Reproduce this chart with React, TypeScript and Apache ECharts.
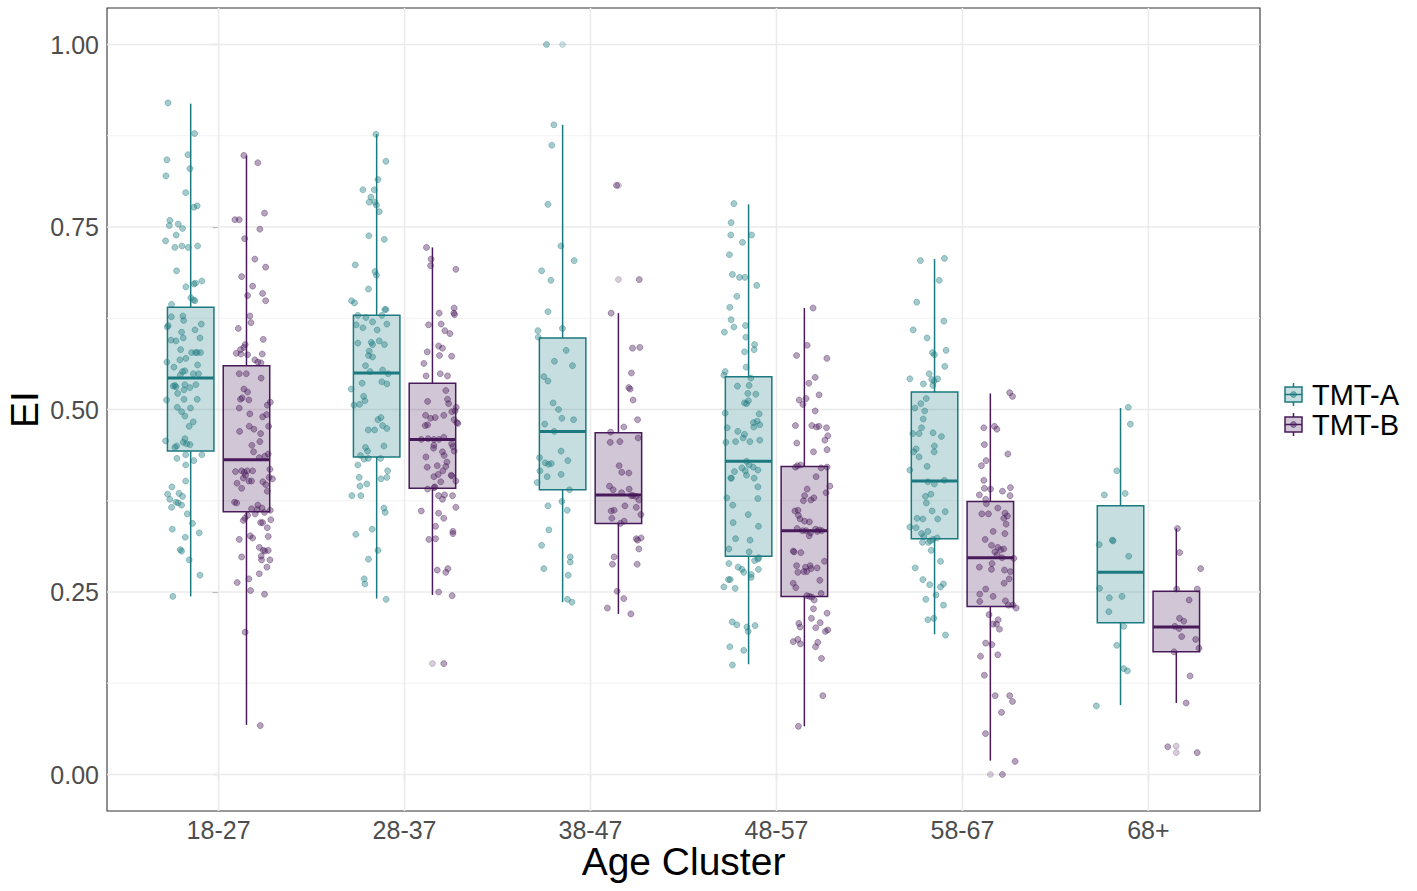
import React, { useEffect, useRef } from "react";
import * as echarts from "echarts";

// ---------- data ----------
const categories = ["18-27", "28-37", "38-47", "48-57", "58-67", "68+"];
const groups = ["TMT-A", "TMT-B"];
const yTicks = [0, 0.25, 0.5, 0.75, 1];
const yMinor = [0.125, 0.375, 0.625, 0.875];

// box stats per category: [lower whisker, Q1, median, Q3, upper whisker]
const boxA = [
  [0.244, 0.443, 0.543, 0.640, 0.919],
  [0.241, 0.435, 0.550, 0.629, 0.877],
  [0.236, 0.390, 0.470, 0.598, 0.890],
  [0.151, 0.299, 0.429, 0.545, 0.781],
  [0.192, 0.323, 0.402, 0.524, 0.706],
  [0.095, 0.208, 0.277, 0.368, 0.502],
];
const boxB = [
  [0.068, 0.360, 0.431, 0.560, 0.848],
  [0.246, 0.392, 0.459, 0.536, 0.722],
  [0.220, 0.344, 0.383, 0.468, 0.632],
  [0.066, 0.244, 0.334, 0.422, 0.639],
  [0.019, 0.230, 0.297, 0.374, 0.522],
  [0.098, 0.168, 0.202, 0.251, 0.337],
];
// boxplot outliers per category
const outliersA = [[], [], [1.0], [], [], []];
const outliersB = [[], [0.152], [0.807, 0.678], [], [0.0], [0.039, 0.030]];

// jittered observations per category: [jitter (category units), EI]
const jitA_1827 = [
  [-0.272, 0.920], [-0.129, 0.878], [-0.278, 0.842], [-0.165, 0.849], [-0.154, 0.830], [-0.283, 0.820],
  [-0.177, 0.797], [-0.133, 0.777], [-0.115, 0.779], [-0.262, 0.759], [-0.265, 0.752], [-0.217, 0.754],
  [-0.194, 0.748], [-0.228, 0.739], [-0.285, 0.731], [-0.235, 0.722], [-0.197, 0.724], [-0.163, 0.722],
  [-0.113, 0.724], [-0.226, 0.690], [-0.176, 0.668], [-0.133, 0.672], [-0.124, 0.673], [-0.090, 0.676],
  [-0.149, 0.653], [-0.134, 0.650], [-0.127, 0.649], [-0.253, 0.644], [-0.271, 0.615], [-0.276, 0.613],
  [-0.254, 0.627], [-0.192, 0.628], [-0.188, 0.622], [-0.127, 0.609], [-0.093, 0.617], [-0.199, 0.606],
  [-0.256, 0.595], [-0.229, 0.594], [-0.190, 0.598], [-0.100, 0.598], [-0.204, 0.582], [-0.145, 0.578],
  [-0.124, 0.578], [-0.115, 0.578], [-0.097, 0.578], [-0.278, 0.565], [-0.208, 0.568], [-0.176, 0.570],
  [-0.240, 0.558], [-0.113, 0.561], [-0.194, 0.552], [-0.181, 0.553], [-0.206, 0.547], [-0.136, 0.549],
  [-0.108, 0.549], [-0.244, 0.532], [-0.235, 0.533], [-0.229, 0.531], [-0.181, 0.534], [-0.154, 0.530],
  [-0.122, 0.534], [-0.220, 0.522], [-0.186, 0.527], [-0.280, 0.513], [-0.186, 0.514], [-0.115, 0.514],
  [-0.151, 0.502], [-0.222, 0.503], [-0.199, 0.497], [-0.181, 0.491], [-0.136, 0.483], [-0.158, 0.477],
  [-0.181, 0.460], [-0.190, 0.455], [-0.285, 0.457], [-0.226, 0.450], [-0.235, 0.448], [-0.172, 0.453],
  [-0.154, 0.452], [-0.224, 0.433], [-0.177, 0.438], [-0.133, 0.430], [-0.090, 0.438], [-0.177, 0.424],
  [-0.177, 0.402], [-0.251, 0.394], [-0.274, 0.384], [-0.213, 0.385], [-0.194, 0.381], [-0.262, 0.377],
  [-0.229, 0.373], [-0.217, 0.372], [-0.199, 0.369], [-0.253, 0.366], [-0.168, 0.357], [-0.140, 0.344],
  [-0.249, 0.336], [-0.179, 0.325], [-0.104, 0.331], [-0.206, 0.308], [-0.199, 0.306], [-0.158, 0.294],
  [-0.100, 0.273], [-0.246, 0.244],
];
const jitA_2837 = [
  [-0.154, 0.877], [-0.100, 0.840], [-0.143, 0.815], [-0.224, 0.801], [-0.163, 0.801], [-0.181, 0.791],
  [-0.190, 0.784], [-0.159, 0.784], [-0.151, 0.780], [-0.136, 0.771], [-0.192, 0.738], [-0.109, 0.733],
  [-0.265, 0.698], [-0.159, 0.689], [-0.151, 0.684], [-0.194, 0.665], [-0.285, 0.649], [-0.269, 0.646],
  [-0.106, 0.637], [-0.100, 0.637], [-0.122, 0.629], [-0.251, 0.629], [-0.208, 0.626], [-0.172, 0.620],
  [-0.260, 0.616], [-0.224, 0.612], [-0.147, 0.609], [-0.095, 0.617], [-0.251, 0.591], [-0.179, 0.592],
  [-0.172, 0.589], [-0.136, 0.594], [-0.108, 0.589], [-0.190, 0.580], [-0.194, 0.574], [-0.172, 0.572],
  [-0.210, 0.560], [-0.185, 0.552], [-0.118, 0.554], [-0.088, 0.549], [-0.228, 0.536], [-0.122, 0.538],
  [-0.095, 0.535], [-0.287, 0.528], [-0.220, 0.518], [-0.213, 0.512], [-0.272, 0.506], [-0.242, 0.507],
  [-0.127, 0.489], [-0.143, 0.486], [-0.118, 0.478], [-0.195, 0.472], [-0.161, 0.472], [-0.095, 0.474],
  [-0.210, 0.448], [-0.111, 0.450], [-0.199, 0.443], [-0.237, 0.437], [-0.217, 0.432], [-0.195, 0.433],
  [-0.129, 0.433], [-0.251, 0.424], [-0.091, 0.416], [-0.244, 0.407], [-0.095, 0.407], [-0.127, 0.405],
  [-0.203, 0.398], [-0.240, 0.395], [-0.283, 0.382], [-0.235, 0.382], [-0.111, 0.365], [-0.104, 0.359],
  [-0.262, 0.329], [-0.174, 0.336], [-0.143, 0.307], [-0.194, 0.295], [-0.217, 0.268], [-0.213, 0.261],
  [-0.099, 0.240],
];
const jitA_3847 = [
  [-0.237, 1.000], [-0.197, 0.890], [-0.208, 0.862], [-0.229, 0.781], [-0.159, 0.724], [-0.088, 0.704],
  [-0.263, 0.690], [-0.213, 0.677], [-0.229, 0.634], [-0.283, 0.608], [-0.281, 0.599], [-0.151, 0.611],
  [-0.131, 0.581], [-0.194, 0.566], [-0.097, 0.560], [-0.251, 0.545], [-0.229, 0.539], [-0.201, 0.509],
  [-0.172, 0.500], [-0.154, 0.488], [-0.246, 0.480], [-0.091, 0.486], [-0.195, 0.470], [-0.274, 0.434],
  [-0.244, 0.427], [-0.226, 0.425], [-0.211, 0.426], [-0.158, 0.443], [-0.122, 0.430], [-0.272, 0.416],
  [-0.233, 0.408], [-0.158, 0.411], [-0.287, 0.400], [-0.113, 0.390], [-0.229, 0.368], [-0.154, 0.374],
  [-0.125, 0.362], [-0.224, 0.335], [-0.263, 0.314], [-0.109, 0.298], [-0.109, 0.291], [-0.251, 0.282],
  [-0.120, 0.273], [-0.124, 0.240], [-0.100, 0.236],
];
const jitA_4857 = [
  [-0.229, 0.782], [-0.244, 0.756], [-0.246, 0.739], [-0.134, 0.739], [-0.183, 0.729], [-0.253, 0.712],
  [-0.237, 0.685], [-0.199, 0.681], [-0.170, 0.681], [-0.106, 0.670], [-0.213, 0.655], [-0.251, 0.640],
  [-0.244, 0.623], [-0.229, 0.613], [-0.167, 0.615], [-0.280, 0.606], [-0.165, 0.599], [-0.118, 0.589],
  [-0.120, 0.582], [-0.172, 0.579], [-0.163, 0.558], [-0.276, 0.552], [-0.283, 0.547], [-0.138, 0.543],
  [-0.210, 0.532], [-0.147, 0.533], [-0.154, 0.522], [-0.111, 0.521], [-0.172, 0.509], [-0.161, 0.508],
  [-0.151, 0.512], [-0.276, 0.495], [-0.093, 0.494], [-0.265, 0.475], [-0.208, 0.470], [-0.172, 0.466],
  [-0.179, 0.461], [-0.124, 0.482], [-0.122, 0.476], [-0.104, 0.484], [-0.090, 0.479], [-0.272, 0.455],
  [-0.220, 0.456], [-0.143, 0.456], [-0.090, 0.458], [-0.161, 0.429], [-0.147, 0.424], [-0.125, 0.421],
  [-0.226, 0.415], [-0.186, 0.420], [-0.168, 0.416], [-0.100, 0.417], [-0.246, 0.406], [-0.242, 0.406],
  [-0.161, 0.410], [-0.120, 0.406], [-0.100, 0.394], [-0.267, 0.379], [-0.235, 0.369], [-0.100, 0.378],
  [-0.152, 0.356], [-0.233, 0.345], [-0.097, 0.340], [-0.220, 0.323], [-0.142, 0.321], [-0.256, 0.309],
  [-0.147, 0.305], [-0.118, 0.293], [-0.100, 0.295], [-0.095, 0.297], [-0.256, 0.289], [-0.206, 0.284],
  [-0.186, 0.281], [-0.176, 0.277], [-0.136, 0.274], [-0.136, 0.270], [-0.097, 0.281], [-0.258, 0.267],
  [-0.249, 0.267], [-0.283, 0.257], [-0.222, 0.255], [-0.238, 0.209], [-0.213, 0.205], [-0.159, 0.202],
  [-0.152, 0.196], [-0.115, 0.204], [-0.251, 0.175], [-0.176, 0.170], [-0.237, 0.150],
];
const jitA_5867 = [
  [-0.226, 0.704], [-0.097, 0.707], [-0.125, 0.677], [-0.246, 0.647], [-0.100, 0.621], [-0.265, 0.609],
  [-0.190, 0.598], [-0.161, 0.578], [-0.151, 0.575], [-0.088, 0.581], [-0.095, 0.559], [-0.179, 0.549],
  [-0.283, 0.542], [-0.165, 0.541], [-0.152, 0.539], [-0.134, 0.542], [-0.210, 0.535], [-0.159, 0.533],
  [-0.195, 0.515], [-0.224, 0.508], [-0.256, 0.502], [-0.203, 0.498], [-0.211, 0.487], [-0.220, 0.475],
  [-0.267, 0.467], [-0.233, 0.467], [-0.158, 0.468], [-0.113, 0.463], [-0.151, 0.450], [-0.249, 0.446],
  [-0.262, 0.442], [-0.152, 0.442], [-0.233, 0.435], [-0.190, 0.422], [-0.283, 0.417], [-0.186, 0.401],
  [-0.151, 0.398], [-0.097, 0.403], [-0.170, 0.384], [-0.199, 0.381], [-0.194, 0.372], [-0.163, 0.361],
  [-0.093, 0.360], [-0.244, 0.351], [-0.213, 0.350], [-0.133, 0.350], [-0.283, 0.339], [-0.249, 0.338],
  [-0.186, 0.333], [-0.220, 0.330], [-0.208, 0.326], [-0.136, 0.324], [-0.158, 0.322], [-0.172, 0.320],
  [-0.215, 0.318], [-0.183, 0.318], [-0.168, 0.307], [-0.118, 0.292], [-0.254, 0.283], [-0.213, 0.267],
  [-0.176, 0.260], [-0.118, 0.257], [-0.102, 0.261], [-0.197, 0.240], [-0.142, 0.246], [-0.102, 0.232],
  [-0.186, 0.212], [-0.154, 0.214], [-0.091, 0.191],
];
const jitA_68 = [
  [-0.108, 0.503], [-0.097, 0.480], [-0.170, 0.416], [-0.237, 0.383], [-0.125, 0.385], [-0.265, 0.315],
  [-0.194, 0.321], [-0.190, 0.320], [-0.106, 0.299], [-0.263, 0.255], [-0.210, 0.242], [-0.142, 0.244],
  [-0.213, 0.223], [-0.133, 0.203], [-0.170, 0.177], [-0.133, 0.145], [-0.113, 0.142], [-0.280, 0.094],
];

const jitB_1827 = [
  [0.211, 0.838], [0.136, 0.848], [0.247, 0.769], [0.088, 0.760], [0.111, 0.760], [0.222, 0.747],
  [0.140, 0.734], [0.195, 0.706], [0.253, 0.695], [0.124, 0.682], [0.183, 0.669], [0.156, 0.656],
  [0.237, 0.659], [0.253, 0.649], [0.168, 0.628], [0.174, 0.619], [0.106, 0.611], [0.240, 0.596],
  [0.143, 0.589], [0.136, 0.585], [0.118, 0.582], [0.095, 0.577], [0.120, 0.576], [0.156, 0.575],
  [0.235, 0.576], [0.195, 0.568], [0.211, 0.565], [0.228, 0.564], [0.111, 0.549], [0.149, 0.549],
  [0.229, 0.543], [0.136, 0.528], [0.156, 0.524], [0.118, 0.514], [0.163, 0.513], [0.127, 0.516],
  [0.278, 0.510], [0.262, 0.506], [0.111, 0.502], [0.168, 0.494], [0.237, 0.490], [0.258, 0.493],
  [0.269, 0.477], [0.165, 0.477], [0.190, 0.473], [0.113, 0.470], [0.226, 0.467], [0.222, 0.456],
  [0.179, 0.451], [0.188, 0.442], [0.267, 0.439], [0.219, 0.434], [0.249, 0.436], [0.276, 0.418],
  [0.091, 0.415], [0.124, 0.416], [0.138, 0.414], [0.154, 0.416], [0.145, 0.410], [0.183, 0.416],
  [0.133, 0.406], [0.163, 0.402], [0.177, 0.402], [0.238, 0.401], [0.254, 0.397], [0.262, 0.388],
  [0.272, 0.407], [0.290, 0.405], [0.099, 0.399], [0.124, 0.392], [0.086, 0.373], [0.097, 0.372],
  [0.211, 0.369], [0.233, 0.365], [0.177, 0.364], [0.142, 0.351], [0.133, 0.348], [0.156, 0.355],
  [0.197, 0.357], [0.208, 0.363], [0.247, 0.359], [0.278, 0.362], [0.281, 0.349], [0.237, 0.345],
  [0.226, 0.345], [0.262, 0.338], [0.267, 0.326], [0.111, 0.322], [0.170, 0.327], [0.183, 0.324],
  [0.267, 0.307], [0.219, 0.311], [0.240, 0.307], [0.229, 0.299], [0.249, 0.306], [0.231, 0.294],
  [0.276, 0.294], [0.260, 0.284], [0.124, 0.298], [0.219, 0.275], [0.163, 0.268], [0.100, 0.263],
  [0.172, 0.252], [0.247, 0.247], [0.143, 0.195], [0.224, 0.067],
];
const jitB_2837 = [
  [0.118, 0.722], [0.143, 0.706], [0.140, 0.697], [0.276, 0.692], [0.186, 0.632], [0.267, 0.639],
  [0.269, 0.630], [0.265, 0.632], [0.129, 0.616], [0.197, 0.617], [0.217, 0.608], [0.244, 0.604],
  [0.183, 0.587], [0.204, 0.584], [0.122, 0.579], [0.188, 0.574], [0.253, 0.573], [0.104, 0.563],
  [0.116, 0.546], [0.192, 0.549], [0.231, 0.546], [0.222, 0.526], [0.231, 0.514], [0.237, 0.508],
  [0.124, 0.511], [0.278, 0.503], [0.272, 0.498], [0.254, 0.497], [0.113, 0.492], [0.140, 0.488],
  [0.165, 0.489], [0.211, 0.492], [0.124, 0.479], [0.111, 0.478], [0.267, 0.486], [0.281, 0.482],
  [0.287, 0.481], [0.090, 0.459], [0.127, 0.460], [0.158, 0.459], [0.185, 0.459], [0.211, 0.462],
  [0.253, 0.453], [0.260, 0.449], [0.267, 0.443], [0.158, 0.451], [0.156, 0.447], [0.204, 0.442],
  [0.213, 0.437], [0.115, 0.435], [0.228, 0.428], [0.122, 0.421], [0.176, 0.423], [0.222, 0.422],
  [0.206, 0.416], [0.181, 0.411], [0.158, 0.408], [0.251, 0.410], [0.254, 0.409], [0.276, 0.402],
  [0.195, 0.401], [0.124, 0.391], [0.163, 0.394], [0.159, 0.393], [0.183, 0.382], [0.204, 0.377],
  [0.215, 0.383], [0.258, 0.382], [0.276, 0.366], [0.090, 0.361], [0.183, 0.358], [0.211, 0.351],
  [0.167, 0.340], [0.260, 0.333], [0.260, 0.330], [0.131, 0.322], [0.167, 0.323], [0.176, 0.280],
  [0.233, 0.282], [0.222, 0.277], [0.183, 0.250], [0.256, 0.245], [0.211, 0.152],
];
const jitB_3847 = [
  [0.140, 0.807], [0.262, 0.678], [0.111, 0.632], [0.226, 0.584], [0.265, 0.585], [0.220, 0.550],
  [0.206, 0.530], [0.213, 0.528], [0.229, 0.513], [0.253, 0.486], [0.179, 0.476], [0.108, 0.469],
  [0.256, 0.461], [0.106, 0.455], [0.158, 0.456], [0.154, 0.423], [0.168, 0.414], [0.206, 0.413],
  [0.102, 0.395], [0.122, 0.390], [0.208, 0.391], [0.167, 0.386], [0.219, 0.382], [0.229, 0.382],
  [0.244, 0.381], [0.260, 0.376], [0.185, 0.368], [0.246, 0.366], [0.111, 0.361], [0.127, 0.362],
  [0.115, 0.351], [0.181, 0.347], [0.161, 0.344], [0.271, 0.356], [0.246, 0.323], [0.253, 0.321],
  [0.272, 0.324], [0.260, 0.309], [0.127, 0.298], [0.118, 0.288], [0.251, 0.288], [0.143, 0.251],
  [0.179, 0.241], [0.091, 0.228], [0.217, 0.220],
];
const jitB_4857 = [
  [0.197, 0.639], [0.165, 0.588], [0.108, 0.574], [0.271, 0.570], [0.208, 0.544], [0.174, 0.536],
  [0.229, 0.520], [0.122, 0.513], [0.142, 0.507], [0.159, 0.515], [0.208, 0.498], [0.102, 0.478],
  [0.190, 0.478], [0.215, 0.476], [0.228, 0.477], [0.269, 0.475], [0.276, 0.464], [0.260, 0.458],
  [0.109, 0.454], [0.199, 0.442], [0.272, 0.445], [0.102, 0.421], [0.113, 0.423], [0.131, 0.424],
  [0.240, 0.420], [0.272, 0.421], [0.213, 0.408], [0.165, 0.391], [0.267, 0.386], [0.151, 0.382],
  [0.145, 0.375], [0.185, 0.376], [0.201, 0.379], [0.287, 0.395], [0.099, 0.361], [0.116, 0.362],
  [0.118, 0.355], [0.127, 0.350], [0.151, 0.347], [0.177, 0.346], [0.111, 0.337], [0.140, 0.334],
  [0.159, 0.334], [0.176, 0.327], [0.183, 0.331], [0.210, 0.336], [0.229, 0.335], [0.244, 0.334],
  [0.219, 0.333], [0.090, 0.306], [0.095, 0.305], [0.131, 0.304], [0.108, 0.286], [0.156, 0.284],
  [0.181, 0.286], [0.186, 0.282], [0.147, 0.278], [0.115, 0.277], [0.163, 0.278], [0.219, 0.283],
  [0.258, 0.292], [0.233, 0.266], [0.090, 0.262], [0.104, 0.256], [0.177, 0.244], [0.163, 0.245],
  [0.190, 0.243], [0.203, 0.239], [0.240, 0.248], [0.199, 0.227], [0.188, 0.214], [0.235, 0.208],
  [0.120, 0.207], [0.127, 0.202], [0.211, 0.201], [0.272, 0.221], [0.263, 0.196], [0.276, 0.198],
  [0.090, 0.182], [0.115, 0.185], [0.129, 0.179], [0.222, 0.181], [0.210, 0.175], [0.242, 0.159],
  [0.249, 0.108], [0.118, 0.066],
];
const jitB_5867 = [
  [0.254, 0.523], [0.269, 0.518], [0.115, 0.475], [0.172, 0.477], [0.185, 0.473], [0.118, 0.452],
  [0.244, 0.439], [0.127, 0.430], [0.102, 0.423], [0.115, 0.403], [0.118, 0.392], [0.151, 0.391],
  [0.091, 0.383], [0.125, 0.377], [0.129, 0.371], [0.215, 0.388], [0.258, 0.393], [0.256, 0.382],
  [0.190, 0.365], [0.229, 0.358], [0.242, 0.354], [0.222, 0.351], [0.235, 0.343], [0.104, 0.357],
  [0.140, 0.357], [0.165, 0.333], [0.228, 0.330], [0.122, 0.322], [0.156, 0.314], [0.190, 0.311],
  [0.206, 0.308], [0.222, 0.309], [0.174, 0.305], [0.186, 0.301], [0.213, 0.297], [0.276, 0.296],
  [0.091, 0.284], [0.159, 0.289], [0.156, 0.281], [0.226, 0.280], [0.258, 0.278], [0.251, 0.268],
  [0.224, 0.262], [0.093, 0.247], [0.125, 0.254], [0.093, 0.237], [0.165, 0.244], [0.231, 0.238],
  [0.247, 0.232], [0.271, 0.232], [0.289, 0.228], [0.143, 0.219], [0.165, 0.206], [0.192, 0.212],
  [0.183, 0.206], [0.199, 0.199], [0.125, 0.180], [0.158, 0.178], [0.097, 0.162], [0.190, 0.164],
  [0.118, 0.136], [0.176, 0.108], [0.254, 0.108], [0.269, 0.100], [0.210, 0.085], [0.124, 0.056],
  [0.283, 0.018], [0.215, 0.000],
];
const jitB_68 = [
  [0.156, 0.337], [0.168, 0.304], [0.281, 0.282], [0.152, 0.254], [0.263, 0.254], [0.219, 0.239],
  [0.167, 0.214], [0.190, 0.210], [0.142, 0.203], [0.165, 0.200], [0.179, 0.189], [0.254, 0.185],
  [0.272, 0.173], [0.138, 0.168], [0.224, 0.135], [0.203, 0.098], [0.104, 0.038], [0.262, 0.030],
];

const jitterA = [jitA_1827, jitA_2837, jitA_3847, jitA_4857, jitA_5867, jitA_68];
const jitterB = [jitB_1827, jitB_2837, jitB_3847, jitB_4857, jitB_5867, jitB_68];

// ---------- style ----------
const TEAL = "#1b7a80";
const PURPLE = "#481a5a";
const FONT = "'Liberation Sans', Arial, Helvetica, sans-serif";
const DODGE = 0.15;
const HALF_BOX = 0.125;

function rgba(hex: string, a: number) {
  const n = parseInt(hex.slice(1), 16);
  return `rgba(${(n >> 16) & 255},${(n >> 8) & 255},${n & 255},${a})`;
}

function boxSeries(name: string, stats: number[][], offset: number, color: string) {
  return {
    type: "custom",
    name,
    z: 3,
    silent: true,
    data: stats.map((s, i) => [i, ...s]),
    renderItem: (params: any, api: any) => {
      const c = api.value(0) + offset;
      const lo = api.value(1), q1 = api.value(2), med = api.value(3), q3 = api.value(4), hi = api.value(5);
      const pL = api.coord([c - HALF_BOX, q3]);
      const pR = api.coord([c + HALF_BOX, q1]);
      const pC1 = api.coord([c, q1]);
      const pC3 = api.coord([c, q3]);
      const pLo = api.coord([c, lo]);
      const pHi = api.coord([c, hi]);
      const pM1 = api.coord([c - HALF_BOX, med]);
      const pM2 = api.coord([c + HALF_BOX, med]);
      const line = { stroke: color, lineWidth: 1.5 };
      return {
        type: "group",
        children: [
          { type: "line", shape: { x1: pHi[0], y1: pHi[1], x2: pC3[0], y2: pC3[1] }, style: line },
          { type: "line", shape: { x1: pLo[0], y1: pLo[1], x2: pC1[0], y2: pC1[1] }, style: line },
          {
            type: "rect",
            shape: { x: pL[0], y: pL[1], width: pR[0] - pL[0], height: pR[1] - pL[1] },
            style: { fill: rgba(color, 0.25), stroke: color, lineWidth: 1.5 },
          },
          { type: "line", shape: { x1: pM1[0], y1: pM1[1], x2: pM2[0], y2: pM2[1] }, style: { stroke: color, lineWidth: 3 } },
        ],
      };
    },
  };
}

function pointSeries(name: string, jit: number[][][], color: string) {
  return {
    type: "scatter",
    name,
    z: 4,
    silent: true,
    symbol: "circle",
    symbolSize: 6,
    itemStyle: { color: rgba(color, 0.5), borderColor: rgba(color, 0.65), borderWidth: 0.7 },
    data: jit.flatMap((pts, i) => pts.map(([dx, v]) => [i + dx, v])),
  };
}

function outlierSeries(name: string, outs: number[][], offset: number, color: string) {
  return {
    type: "scatter",
    name,
    z: 4,
    silent: true,
    symbol: "circle",
    symbolSize: 6,
    itemStyle: { color: rgba(color, 0.28), borderColor: rgba(color, 0.35), borderWidth: 0.7 },
    data: outs.flatMap((vals, i) => vals.map((v) => [i + offset, v])),
  };
}

const gridItems: number[][] = [
  ...yTicks.map((v) => [0, v]),
  ...yMinor.map((v) => [1, v]),
  ...categories.map((_, i) => [2, i]),
];

function legendKey(cy: number, color: string, label: string) {
  const cx = 1293.5;
  const hw = 8.5;
  const hb = 7.5;
  return [
    { type: "rect", shape: { x: cx - 10.5, y: cy - 14, width: 21, height: 28 }, style: { fill: "#ffffff" } },
    { type: "line", shape: { x1: cx, y1: cy - 11.5, x2: cx, y2: cy - hb }, style: { stroke: color, lineWidth: 1.5 } },
    { type: "line", shape: { x1: cx, y1: cy + hb, x2: cx, y2: cy + 11.5 }, style: { stroke: color, lineWidth: 1.5 } },
    {
      type: "rect",
      shape: { x: cx - hw, y: cy - hb, width: hw * 2, height: hb * 2 },
      style: { fill: rgba(color, 0.25), stroke: color, lineWidth: 1.5 },
    },
    { type: "line", shape: { x1: cx - hw, y1: cy, x2: cx + hw, y2: cy }, style: { stroke: color, lineWidth: 1.5 } },
    { type: "circle", shape: { cx, cy, r: 3 }, style: { fill: rgba(color, 0.5), stroke: rgba(color, 0.65), lineWidth: 0.7 } },
    {
      type: "text",
      x: 1312,
      y: cy,
      style: {
        text: label,
        fill: "#000000",
        font: `29px ${FONT}`,
        lineHeight: 29,
        textVerticalAlign: "middle",
        verticalAlign: "middle",
      },
    },
  ];
}

export default function App() {
  const ref = useRef<HTMLDivElement>(null);
  useEffect(() => {
    if (!ref.current) return;
    const chart = echarts.init(ref.current, undefined, { renderer: "svg" });
    chart.setOption({
      animation: false,
      backgroundColor: "#ffffff",
      textStyle: { fontFamily: FONT },
      grid: {
        left: 107,
        top: 8,
        width: 1153,
        height: 803,
        show: true,
        backgroundColor: "#ffffff",
        borderColor: "#333333",
        borderWidth: 1.1,
      },
      xAxis: {
        type: "value",
        min: -0.6,
        max: 5.6,
        axisLine: { show: false },
        splitLine: { show: false },
        axisTick: { show: true, customValues: categories.map((_, i) => i), length: 6, lineStyle: { color: "#333333", width: 1.1 } },
        axisLabel: {
          customValues: categories.map((_, i) => i),
          formatter: (v: number) => categories[Math.round(v)] ?? "",
          color: "#4d4d4d",
          fontSize: 25,
          fontFamily: FONT,
          margin: 6,
        },
      },
      yAxis: {
        type: "value",
        min: -0.05,
        max: 1.05,
        axisLine: { show: false },
        splitLine: { show: false },
        axisTick: { show: true, customValues: yTicks, length: 6, lineStyle: { color: "#333333", width: 1.1 } },
        axisLabel: {
          customValues: yTicks,
          formatter: (v: number) => v.toFixed(2),
          color: "#4d4d4d",
          fontSize: 25,
          fontFamily: FONT,
          margin: 8,
        },
      },
      series: [
        {
          type: "custom",
          name: "grid",
          z: 1,
          silent: true,
          data: gridItems,
          renderItem: (params: any, api: any) => {
            const kind = api.value(0);
            const v = api.value(1);
            if (kind === 2) {
              const a = api.coord([v, -0.05]);
              const b = api.coord([v, 1.05]);
              return { type: "line", shape: { x1: a[0], y1: a[1], x2: b[0], y2: b[1] }, style: { stroke: "#ebebeb", lineWidth: 1.6 } };
            }
            const a = api.coord([-0.6, v]);
            const b = api.coord([5.6, v]);
            return {
              type: "line",
              shape: { x1: a[0], y1: a[1], x2: b[0], y2: b[1] },
              style: { stroke: kind === 0 ? "#ebebeb" : "#f2f2f2", lineWidth: kind === 0 ? 1.6 : 1.1 },
            };
          },
        },
        boxSeries(groups[0] + " box", boxA, -DODGE, TEAL),
        boxSeries(groups[1] + " box", boxB, DODGE, PURPLE),
        outlierSeries(groups[0] + " outliers", outliersA, -DODGE, TEAL),
        outlierSeries(groups[1] + " outliers", outliersB, DODGE, PURPLE),
        pointSeries(groups[0], jitterA, TEAL),
        pointSeries(groups[1], jitterB, PURPLE),
      ],
      graphic: [
        {
          type: "text",
          x: 683.5,
          y: 861,
          style: { text: "Age Cluster", fill: "#000000", font: `39px ${FONT}`, textAlign: "center", textVerticalAlign: "middle", align: "center", verticalAlign: "middle" },
        },
        {
          type: "text",
          x: 24,
          y: 409.5,
          rotation: Math.PI / 2,
          style: { text: "EI", fill: "#000000", font: `39px ${FONT}`, textAlign: "center", textVerticalAlign: "middle", align: "center", verticalAlign: "middle" },
        },
        ...legendKey(394.5, TEAL, groups[0]),
        ...legendKey(424.5, PURPLE, groups[1]),
      ],
    });
    return () => chart.dispose();
  }, []);
  return <div ref={ref} style={{ position: "absolute", left: 0, top: 0, width: 1417, height: 891 }} />;
}
